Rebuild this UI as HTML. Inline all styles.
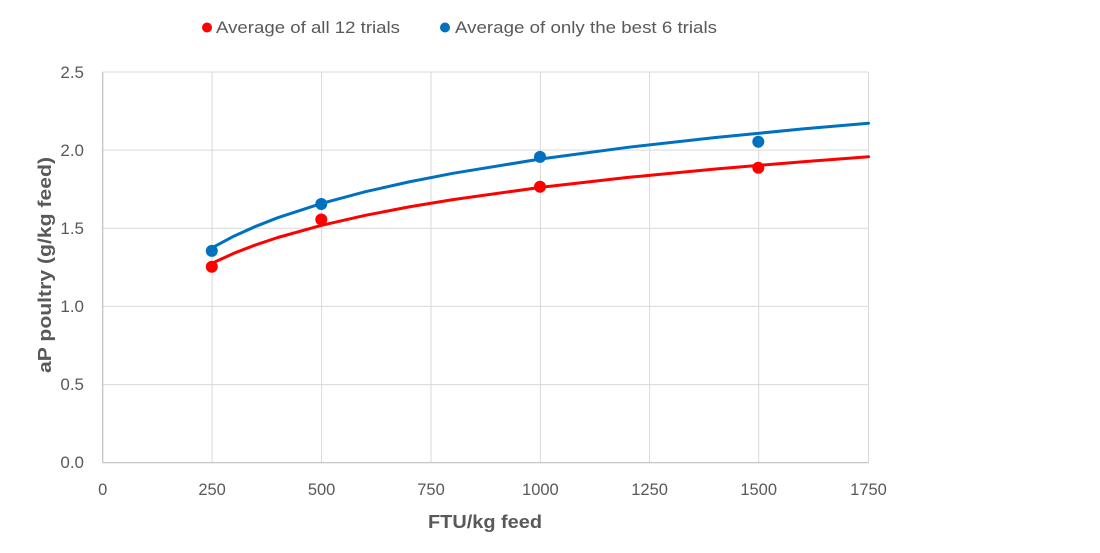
<!DOCTYPE html>
<html><head><meta charset="utf-8">
<style>
html,body{margin:0;padding:0;background:#fff;}
svg{display:block;}
text{font-family:"Liberation Sans",Arial,sans-serif;fill:#595959;}
</style></head>
<body>
<svg width="1100" height="553" viewBox="0 0 1100 553" xmlns="http://www.w3.org/2000/svg">
<rect width="1100" height="553" fill="#fff"/>
<!-- gridlines -->
<g stroke="#D9D9D9" stroke-width="1" fill="none">
<line x1="102.7" y1="72" x2="868.5" y2="72"/>
<line x1="102.7" y1="150.1" x2="868.5" y2="150.1"/>
<line x1="102.7" y1="228.3" x2="868.5" y2="228.3"/>
<line x1="102.7" y1="306.4" x2="868.5" y2="306.4"/>
<line x1="102.7" y1="384.6" x2="868.5" y2="384.6"/>
<line x1="212.1" y1="72" x2="212.1" y2="462.7"/>
<line x1="321.6" y1="72" x2="321.6" y2="462.7"/>
<line x1="431" y1="72" x2="431" y2="462.7"/>
<line x1="540.4" y1="72" x2="540.4" y2="462.7"/>
<line x1="649.6" y1="72" x2="649.6" y2="462.7"/>
<line x1="758.7" y1="72" x2="758.7" y2="462.7"/>
<line x1="868.5" y1="72" x2="868.5" y2="462.7"/>
</g>
<g stroke="#BFBFBF" stroke-width="1.2">
<line x1="102.7" y1="72" x2="102.7" y2="462.7"/>
<line x1="102.7" y1="462.7" x2="868.5" y2="462.7"/>
</g>
<!-- y tick labels -->
<g font-size="17" text-anchor="end">
<text x="84" y="78">2.5</text>
<text x="84" y="156">2.0</text>
<text x="84" y="234">1.5</text>
<text x="84" y="312">1.0</text>
<text x="84" y="390">0.5</text>
<text x="84" y="468">0.0</text>
</g>
<!-- x tick labels -->
<g font-size="16.5" text-anchor="middle">
<text x="102.7" y="495">0</text>
<text x="212.1" y="495">250</text>
<text x="321.6" y="495">500</text>
<text x="431" y="495">750</text>
<text x="540.4" y="495">1000</text>
<text x="649.6" y="495">1250</text>
<text x="758.7" y="495">1500</text>
<text x="868.5" y="495">1750</text>
</g>
<!-- axis titles -->
<text x="428" y="528" font-size="18" font-weight="bold" textLength="114" lengthAdjust="spacingAndGlyphs">FTU/kg feed</text>
<text transform="translate(51,373) rotate(-90)" font-size="18" font-weight="bold" textLength="216" lengthAdjust="spacingAndGlyphs">aP poultry (g/kg feed)</text>
<!-- trendlines -->
<polyline fill="none" stroke="#FF0000" stroke-width="3" stroke-linejoin="round" stroke-linecap="round"
points="212.1,263.2 234.0,253.2 255.9,244.8 277.8,237.5 321.6,225.3 365.4,215.3 409.1,206.9 452.9,199.6 540.5,187.4 628.0,177.4 715.6,169.0 803.1,161.7 868.5,156.8"/>
<polyline fill="none" stroke="#0070C0" stroke-width="3" stroke-linejoin="round" stroke-linecap="round"
points="212.1,247.8 234.0,236.1 255.9,226.3 277.8,217.7 321.6,203.4 365.4,191.7 409.1,181.9 452.9,173.3 540.5,159.0 628.0,147.3 715.6,137.5 803.1,128.9 868.5,123.2"/>
<!-- markers -->
<g fill="#FF0000">
<circle cx="211.8" cy="266.7" r="6"/>
<circle cx="321.3" cy="219.5" r="6"/>
<circle cx="540" cy="186.7" r="6"/>
<circle cx="758.3" cy="167.7" r="6"/>
</g>
<g fill="#0070C0">
<circle cx="211.8" cy="250.9" r="6"/>
<circle cx="321.3" cy="204" r="6"/>
<circle cx="540" cy="156.9" r="6"/>
<circle cx="758.3" cy="141.7" r="6"/>
</g>
<!-- legend -->
<circle cx="207" cy="27.5" r="5" fill="#FF0000"/>
<text x="216" y="33" font-size="17" textLength="184" lengthAdjust="spacingAndGlyphs">Average of all 12 trials</text>
<circle cx="445" cy="27.5" r="5" fill="#0070C0"/>
<text x="455" y="33" font-size="17" textLength="262" lengthAdjust="spacingAndGlyphs">Average of only the best 6 trials</text>
</svg>
</body></html>
